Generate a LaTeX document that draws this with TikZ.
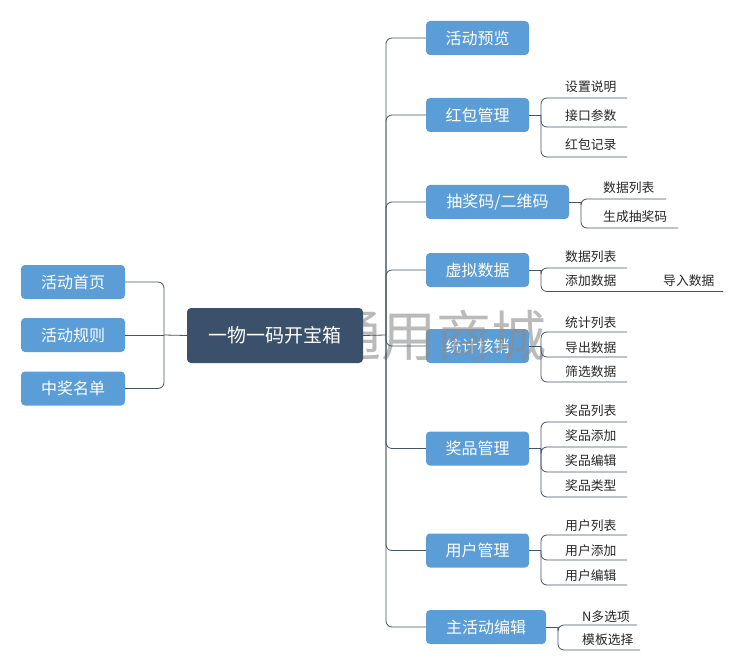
\documentclass[tikz,border=0pt]{standalone}
\usepackage{fontspec}
\setmainfont{Noto Sans CJK SC}
\definecolor{topicblue}{RGB}{91,157,214}
\definecolor{centreblue}{RGB}{58,80,107}
\definecolor{linec}{RGB}{70,85,100}
\tikzset{
  topicbox/.style={fill=topicblue, rounded corners=4pt, text=white, font=\fontsize{16}{16}\selectfont, minimum height=34pt, minimum width=103pt, inner sep=0pt},
  centrebox/.style={fill=centreblue, rounded corners=4pt, text=white, font=\fontsize{19}{19}\selectfont, minimum width=176pt, minimum height=55pt, inner sep=0pt},
  subtext/.style={text=black!85, font=\fontsize{12.8}{13}\selectfont, inner sep=0pt, anchor=west},
  conn/.style={draw=linec, line width=0.8pt, rounded corners=6pt},
  wmark/.style={text=black!45, font=\fontsize{55}{55}\selectfont, inner sep=0pt, opacity=0.6}
}
\begin{document}
\begin{tikzpicture}[x=1pt,y=-1pt]
\useasboundingbox (0,0) rectangle (744,671);
% left topics
\node[topicbox, minimum width=104pt] (l1) at (73,282) {活动首页};
\node[topicbox, minimum width=104pt] (l2) at (73,335) {活动规则};
\node[topicbox, minimum width=104pt] (l3) at (73,388.5) {中奖名单};
% right topics
\node[topicbox] (n1) at (477.5,38) {活动预览};
\node[topicbox] (n2) at (477.5,115) {红包管理};
\node[topicbox, minimum width=143pt] (n3) at (497.5,202) {抽奖码/二维码};
\node[topicbox] (n4) at (477.5,270) {虚拟数据};
\node[topicbox] (n5) at (477.5,346) {统计核销};
\node[topicbox] (n6) at (477.5,448.5) {奖品管理};
\node[topicbox] (n7) at (477.5,550.5) {用户管理};
\node[topicbox, minimum width=120pt] (n8) at (486,627) {主活动编辑};
% watermark
\node[wmark] (wm) at (436,336) {通用商城};
% central topic
\node[centrebox] (c) at (275,335.5) {一物一码开宝箱};
% left connectors
\coordinate (lhub) at (164,335);
\draw[conn] (c.west) -- (lhub);
\draw[conn] (lhub) |- (l1.east);
\draw[conn] (lhub) -- (l2.east);
\draw[conn] (lhub) |- (l3.east);
% right connectors
\coordinate (rhub) at (386,335);
\draw[conn] (c.east) -- (rhub);
\foreach \n in {n1,n2,n3,n4,n5,n6,n7,n8}{
  \draw[conn] (rhub) |- (\n.west);
}
% group 2
\coordinate (h2) at (541,115);
\draw[conn] (n2.east) -- (h2);
\coordinate (u21) at (627,98);
\coordinate (u22) at (627,127);
\coordinate (u23) at (627,157);
\draw[conn] (h2) |- (u21);
\draw[conn] (h2) |- (u22);
\draw[conn] (h2) |- (u23);
\node[subtext] (s21) at (565,87) {设置说明};
\node[subtext] (s22) at (565,115.5) {接口参数};
\node[subtext] (s23) at (565,145) {红包记录};
% group 3
\coordinate (h3) at (581,202);
\draw[conn] (n3.east) -- (h3);
\coordinate (u31) at (666,199);
\coordinate (u32) at (678,228);
\draw[conn] (h3) |- (u31);
\draw[conn] (h3) |- (u32);
\node[subtext] (s31) at (603,188) {数据列表};
\node[subtext] (s32) at (603,217) {生成抽奖码};
% group 4
\coordinate (h4) at (541,270);
\draw[conn] (n4.east) -- (h4);
\coordinate (u41) at (627,268);
\coordinate (u42) at (723,291.5);
\draw[conn] (h4) |- (u41);
\draw[conn] (h4) |- (u42);
\node[subtext] (s41) at (565,257) {数据列表};
\node[subtext] (s42) at (565,281) {添加数据};
\node[subtext] (s43) at (663,281) {导入数据};
% group 5
\coordinate (h5) at (541,346);
\draw[conn] (n5.east) -- (h5);
\coordinate (u51) at (627,332);
\coordinate (u52) at (627,357);
\coordinate (u53) at (627,382);
\draw[conn] (h5) |- (u51);
\draw[conn] (h5) |- (u52);
\draw[conn] (h5) |- (u53);
\node[subtext] (s51) at (565,322.5) {统计列表};
\node[subtext] (s52) at (565,347.5) {导出数据};
\node[subtext] (s53) at (565,372) {筛选数据};
% group 6
\coordinate (h6) at (541,448.5);
\draw[conn] (n6.east) -- (h6);
\coordinate (u61) at (627,422);
\coordinate (u62) at (627,447);
\coordinate (u63) at (627,472);
\coordinate (u64) at (627,497);
\draw[conn] (h6) |- (u61);
\draw[conn] (h6) |- (u62);
\draw[conn] (h6) |- (u63);
\draw[conn] (h6) |- (u64);
\node[subtext] (s61) at (565,411) {奖品列表};
\node[subtext] (s62) at (565,436) {奖品添加};
\node[subtext] (s63) at (565,461) {奖品编辑};
\node[subtext] (s64) at (565,486) {奖品类型};
% group 7
\coordinate (h7) at (541,550.5);
\draw[conn] (n7.east) -- (h7);
\coordinate (u71) at (627,535);
\coordinate (u72) at (627,560);
\coordinate (u73) at (627,585);
\draw[conn] (h7) |- (u71);
\draw[conn] (h7) |- (u72);
\draw[conn] (h7) |- (u73);
\node[subtext] (s71) at (565,526) {用户列表};
\node[subtext] (s72) at (565,551) {用户添加};
\node[subtext] (s73) at (565,576) {用户编辑};
% group 8
\coordinate (h8) at (558,627);
\draw[conn] (n8.east) -- (h8);
\coordinate (u81) at (637,625);
\coordinate (u82) at (640,650);
\draw[conn] (h8) |- (u81);
\draw[conn] (h8) |- (u82);
\node[subtext] (s81) at (582,616.5) {N多选项};
\node[subtext] (s82) at (582,640) {模板选择};
\end{tikzpicture}
\end{document}
